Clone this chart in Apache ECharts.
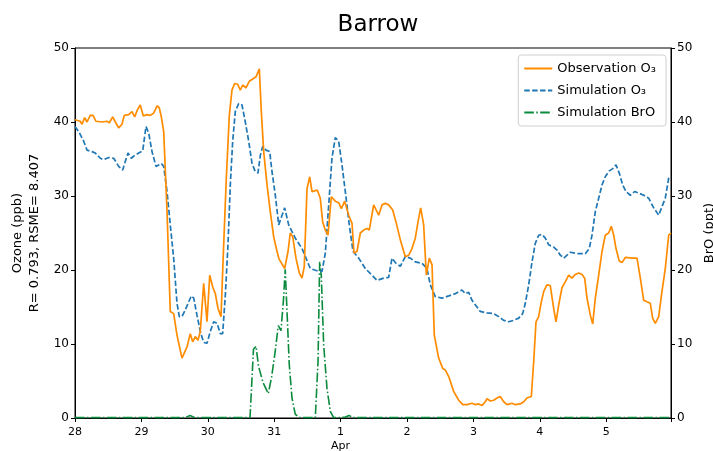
<!DOCTYPE html>
<html>
<head>
<meta charset="utf-8">
<script src="https://cdn.jsdelivr.net/npm/echarts@6/dist/echarts.min.js"></script>
<style>html,body{margin:0;padding:0;background:#fff}#c{width:713px;height:451px}</style>
</head>
<body>
<div id="c"></div>
<script>
// Tick labels (days from 28 Mar)
var dayLabels = ['28','29','30','31','1','2','3','4','5'];

// Observation O3 (ppb): time in days since 28 Mar 00:00
var obsDays = [0,0.080,0.105,0.146,0.181,0.230,0.271,0.316,0.407,0.482,0.517,0.568,0.607,0.658,0.708,0.742,0.809,0.858,0.899,0.938,0.983,1.029,1.084,1.134,1.185,1.239,1.270,1.300,1.336,1.386,1.435,1.486,1.536,1.611,1.687,1.736,1.773,1.812,1.852,1.887,1.938,1.988,2.029,2.074,2.113,2.154,2.199,2.239,2.279,2.324,2.364,2.405,2.450,2.489,2.526,2.575,2.625,2.676,2.726,2.776,2.806,2.842,2.892,2.941,2.992,3.035,3.072,3.158,3.208,3.242,3.279,3.328,3.378,3.419,3.453,3.494,3.535,3.569,3.610,3.649,3.694,3.730,3.770,3.810,3.860,3.920,3.971,4.011,4.062,4.122,4.172,4.202,4.247,4.297,4.348,4.398,4.432,4.498,4.574,4.623,4.673,4.724,4.785,4.834,4.899,4.974,5.026,5.075,5.125,5.166,5.206,5.251,5.291,5.336,5.377,5.411,5.477,5.538,5.577,5.628,5.703,5.779,5.839,5.904,5.979,6.029,6.080,6.130,6.179,6.205,6.255,6.306,6.355,6.405,6.456,6.506,6.581,6.631,6.706,6.758,6.807,6.872,6.908,6.943,6.983,7.023,7.059,7.108,7.158,7.209,7.244,7.285,7.334,7.384,7.435,7.485,7.535,7.586,7.636,7.676,7.711,7.761,7.797,7.836,7.887,7.937,7.986,8.038,8.077,8.113,8.148,8.197,8.238,8.288,8.389,8.464,8.514,8.565,8.614,8.664,8.700,8.739,8.791,8.840,8.890,8.941,8.976];
var obsO3 = [40.3,40.1,39.7,40.6,40.0,40.9,40.9,40.1,40.0,40.1,39.9,40.7,40.0,39.2,39.7,40.9,41.0,41.4,40.7,41.6,42.3,40.8,41.0,40.9,41.2,42.2,41.9,40.7,38.7,27.9,14.4,14.1,11.2,8.1,9.6,11.4,10.3,11.0,10.5,11.7,18.2,13.0,19.3,17.7,16.8,14.8,13.7,23.4,32.4,40.9,44.3,45.2,45.1,44.3,45.0,44.6,45.5,45.8,46.1,47.2,41.4,36.0,31.5,27.9,24.5,22.8,21.5,20.2,22.5,25.0,24.5,21.6,19.6,18.9,20.5,31.0,32.6,30.6,30.7,30.8,29.7,26.5,25.4,24.7,29.9,29.3,29.1,28.3,29.3,27.4,26.3,22.3,22.5,25.0,25.4,25.6,25.4,28.8,27.4,28.8,29.0,28.8,28.1,26.5,24.1,21.8,22.0,22.9,24.3,26.5,28.4,26.1,19.3,21.6,20.7,11.2,8.1,6.7,6.5,5.6,3.6,2.4,1.8,1.8,2.0,1.8,1.9,1.7,2.2,2.6,2.3,2.4,2.7,2.9,2.2,1.8,2.0,1.8,1.9,2.2,2.7,2.9,7.6,13.0,13.7,15.7,17.1,18.0,17.9,14.8,13.0,15.3,17.6,18.4,19.3,18.9,19.4,19.6,19.4,18.9,16.2,13.9,12.7,16.2,19.3,22.5,24.7,25.0,25.9,24.7,22.9,21.2,21.0,21.7,21.6,21.6,18.9,15.9,15.7,15.5,13.5,12.8,13.7,17.1,20.2,24.7,25.0];

// Simulation O3 (ppb)
var simDays = [0,0.056,0.131,0.181,0.256,0.306,0.381,0.432,0.508,0.583,0.658,0.718,0.758,0.798,0.848,0.899,0.959,1.020,1.069,1.110,1.160,1.220,1.261,1.300,1.336,1.386,1.435,1.486,1.536,1.571,1.611,1.661,1.712,1.752,1.788,1.837,1.887,1.938,1.988,2.038,2.089,2.139,2.188,2.224,2.264,2.304,2.339,2.375,2.414,2.465,2.515,2.565,2.616,2.666,2.715,2.756,2.791,2.827,2.877,2.932,2.967,3.017,3.068,3.158,3.218,3.318,3.419,3.544,3.645,3.720,3.770,3.821,3.870,3.920,3.971,4.021,4.071,4.131,4.187,4.273,4.372,4.473,4.548,4.649,4.724,4.774,4.834,4.899,4.974,5.050,5.125,5.226,5.301,5.351,5.426,5.527,5.628,5.727,5.828,5.878,5.929,5.979,6.054,6.104,6.205,6.306,6.381,6.456,6.532,6.607,6.682,6.742,6.782,6.833,6.883,6.932,6.983,7.033,7.083,7.134,7.209,7.259,7.309,7.360,7.410,7.459,7.586,7.685,7.745,7.786,7.836,7.887,7.937,7.986,8.047,8.098,8.148,8.197,8.248,8.298,8.363,8.429,8.489,8.565,8.640,8.715,8.791,8.851,8.890,8.941,8.976];
var simO3 = [39.4,38.7,37.4,36.2,36.0,35.8,35.1,34.9,35.2,35.1,34.0,33.5,34.7,35.8,35.1,35.5,35.8,36.1,39.4,38.5,36.0,34.0,34.2,34.4,34.0,30.6,26.1,21.6,15.5,13.7,13.7,14.6,15.7,16.5,16.2,13.9,11.7,10.2,10.1,11.7,13.0,12.8,11.4,11.4,16.6,23.4,31.5,37.4,41.4,42.5,42.3,40.0,37.4,34.4,33.3,33.1,35.5,36.7,36.2,36.0,33.3,30.1,26.1,28.4,26.1,24.3,22.9,20.2,19.9,19.8,22.3,28.8,35.1,37.9,37.4,34.2,30.6,26.1,22.5,21.6,20.2,19.3,18.6,18.9,19.0,21.6,20.9,20.5,21.8,21.6,21.1,20.9,20.2,18.0,16.4,16.2,16.5,16.8,17.3,16.8,17.0,15.9,15.0,14.4,14.2,14.1,13.7,13.2,13.0,13.2,13.5,14.1,15.5,18.0,21.1,23.6,24.7,24.8,24.3,23.4,23.1,22.7,22.0,21.6,22.0,22.4,22.2,22.2,22.9,24.7,27.9,29.7,31.5,32.6,33.4,33.7,34.2,33.1,31.5,30.6,30.1,30.6,30.4,30.1,29.7,28.4,27.4,28.8,29.7,32.4,32.7];

// Simulation BrO (ppt)
var broDays = [0,1.130,1.657,1.732,1.807,2.636,2.661,2.688,2.726,2.764,2.831,2.911,2.962,3.012,3.062,3.102,3.140,3.166,3.193,3.227,3.268,3.318,3.389,3.619,3.660,3.685,3.709,3.745,3.795,3.845,3.896,4.066,4.127,4.187,8.976];
var broPpt = [0.05,0.05,0.05,0.35,0.05,0.05,0.3,9.3,9.7,7.0,4.8,3.3,5.6,8.8,12.5,11.8,16.0,20.1,14.4,7.2,2.7,0.5,0.05,0.05,7.6,21.1,19.3,9.9,4.0,0.9,0.05,0.1,0.35,0.05,0.05];

function pairs(xs, ys){ return xs.map(function(x,i){ return [x, ys[i]]; }); }

var FONT = 'DejaVu Sans';
var chart = echarts.init(document.getElementById('c'), null, {renderer:'canvas'});
chart.setOption({
  animation: false,
  backgroundColor: '#fff',
  title: {
    text: 'Barrow', left: 373, top: 9, textAlign: 'center',
    textStyle: {fontFamily: FONT, fontSize: 23, fontWeight: 'normal', color: '#000'}
  },
  grid: {left: 75, right: 42, top: 48, bottom: 33, containLabel: false, outerBoundsMode: 'none',
         show: true, borderColor: '#000', borderWidth: 1, backgroundColor: 'transparent'},
  legend: {
    right: 47, top: 55, orient: 'vertical', itemWidth: 28, itemHeight: 12, itemGap: 9,
    padding: [7, 10, 7, 5], borderColor: '#d0d0d0', borderWidth: 1, borderRadius: 3, backgroundColor: 'rgba(255,255,255,0.8)',
    itemStyle: {opacity: 0},
    textStyle: {fontFamily: FONT, fontSize: 13, color: '#000'},
    data: ['Observation O₃', 'Simulation O₃', 'Simulation BrO']
  },
  xAxis: {
    type: 'value', min: 0, max: 8.976, interval: 1,
    splitLine: {show: false},
    axisLine: {lineStyle: {color: '#000', width: 1}},
    axisTick: {length: 4, lineStyle: {color: '#000'}},
    axisLabel: {
      fontFamily: FONT, fontSize: 11, color: '#000', margin: 7, lineHeight: 14,
      formatter: function(v){
        if (Math.abs(v - Math.round(v)) > 1e-6) return '';
        var i = Math.round(v);
        var s = dayLabels[i] || '';
        return i === 4 ? s + '\nApr' : s;
      }
    }
  },
  yAxis: [{
    type: 'value', min: 0, max: 50, interval: 10, position: 'left',
    name: 'Ozone (ppb)\nR= 0.793, RSME= 8.407', nameLocation: 'middle', nameGap: 29,
    nameTextStyle: {fontFamily: FONT, fontSize: 13, color: '#000', lineHeight: 17},
    splitLine: {show: false},
    axisLine: {show: true, lineStyle: {color: '#000'}},
    axisTick: {show: true, length: 4, lineStyle: {color: '#000'}},
    axisLabel: {fontFamily: FONT, fontSize: 12, color: '#000', margin: 6}
  }, {
    type: 'value', min: 0, max: 50, interval: 10, position: 'right',
    name: 'BrO (ppt)', nameLocation: 'middle', nameGap: 28,
    nameTextStyle: {fontFamily: FONT, fontSize: 13, color: '#000'},
    splitLine: {show: false},
    axisLine: {show: true, lineStyle: {color: '#000'}},
    axisTick: {show: true, length: 4, lineStyle: {color: '#000'}},
    axisLabel: {fontFamily: FONT, fontSize: 12, color: '#000', margin: 6}
  }],
  series: [{
    name: 'Observation O₃', type: 'line', yAxisIndex: 0, symbol: 'none', z: 3,
    data: pairs(obsDays, obsO3),
    itemStyle: {color: '#ff8c00'},
    lineStyle: {color: '#ff8c00', width: 1.7}
  }, {
    name: 'Simulation O₃', type: 'line', yAxisIndex: 0, symbol: 'none', z: 2,
    data: pairs(simDays, simO3),
    itemStyle: {color: '#1f77b4'},
    lineStyle: {color: '#1f77b4', width: 1.7, type: [5.5, 2.4]}
  }, {
    name: 'Simulation BrO', type: 'line', yAxisIndex: 1, symbol: 'none', z: 1,
    data: pairs(broDays, broPpt),
    itemStyle: {color: '#0a8a3c'},
    lineStyle: {color: '#0a8a3c', width: 1.6, type: [9.6, 2.4, 1.5, 2.4]}
  }]
});
</script>
</body>
</html>
